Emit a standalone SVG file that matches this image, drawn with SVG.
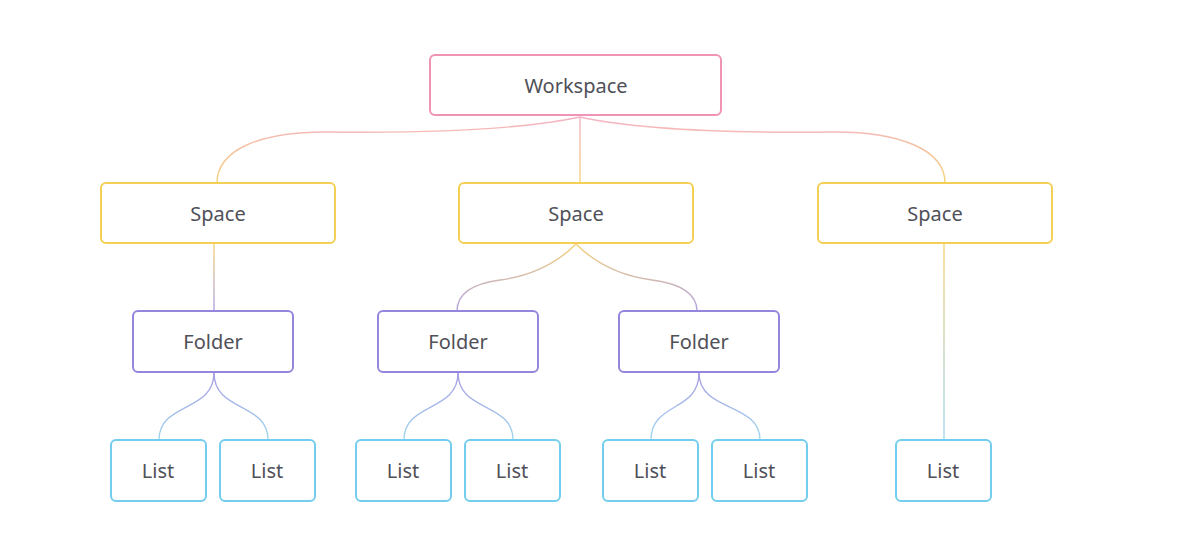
<svg xmlns="http://www.w3.org/2000/svg" width="1179" height="553" viewBox="0 0 1179 553">
<style>
  .box { fill: #ffffff; stroke-width: 2; }
  .ws { stroke: #F093B5; }
  .sp { stroke: #F4CF55; }
  .fo { stroke: #9685DD; }
  .li { stroke: #74CDEE; }
  .lbl { font-family: "Noto Sans", Lato, sans-serif; font-size: 20px; fill: #505058; text-anchor: middle; dominant-baseline: central; }
  .c { fill: none; stroke-width: 1.4; }
</style>
<defs>
  <linearGradient id="gWS" gradientUnits="userSpaceOnUse" x1="0" y1="116" x2="0" y2="183">
    <stop offset="0" stop-color="#F4B3C6"/>
    <stop offset="1" stop-color="#F5D27A"/>
  </linearGradient>
  <linearGradient id="gSF" gradientUnits="userSpaceOnUse" x1="0" y1="244" x2="0" y2="311">
    <stop offset="0" stop-color="#F5D27A"/>
    <stop offset="1" stop-color="#B0A3E3"/>
  </linearGradient>
  <linearGradient id="gFL" gradientUnits="userSpaceOnUse" x1="0" y1="373" x2="0" y2="440">
    <stop offset="0" stop-color="#A99BE2"/>
    <stop offset="1" stop-color="#9FD8F0"/>
  </linearGradient>
  <linearGradient id="gSL" gradientUnits="userSpaceOnUse" x1="0" y1="244" x2="0" y2="440">
    <stop offset="0" stop-color="#F5D27A"/>
    <stop offset="1" stop-color="#9FD8F0"/>
  </linearGradient>
</defs>
<rect width="1179" height="553" fill="#ffffff"/>
<g id="connectors">
  <path class="c" stroke="url(#gWS)" d="M580,117 C520,130 420,133 330,132 C260,131 217,150 217,183"/>
  <path class="c" stroke="url(#gWS)" d="M580,117 V183"/>
  <path class="c" stroke="url(#gWS)" d="M580,117 C640,130 740,133 830,132 C900,131 945,150 945,183"/>
  <path class="c" stroke="url(#gSF)" d="M214,244 V311"/>
  <path class="c" stroke="url(#gSF)" d="M576,244 C555,265 530,276 500,280 C470,284 457,295 457,311"/>
  <path class="c" stroke="url(#gSF)" d="M576,244 C597,265 622,276 652,280 C682,284 697,295 697,311"/>
  <path class="c" stroke="url(#gSL)" d="M944,244 V440"/>
  <path class="c" stroke="url(#gFL)" d="M214,373 C214,412 159,402 159,440"/>
  <path class="c" stroke="url(#gFL)" d="M214,373 C214,412 268,402 268,440"/>
  <path class="c" stroke="url(#gFL)" d="M458,373 C458,412 404,402 404,440"/>
  <path class="c" stroke="url(#gFL)" d="M458,373 C458,412 513,402 513,440"/>
  <path class="c" stroke="url(#gFL)" d="M699,373 C699,412 651,402 651,440"/>
  <path class="c" stroke="url(#gFL)" d="M699,373 C699,412 760,402 760,440"/>
</g>
<g id="workspace"><rect class="box ws" x="430" y="55" width="291" height="60" rx="5"/><text class="lbl" x="576" y="85">Workspace</text></g>
<g id="space1"><rect class="box sp" x="101" y="183" width="234" height="60" rx="5"/><text class="lbl" x="218" y="213">Space</text></g>
<g id="space2"><rect class="box sp" x="459" y="183" width="234" height="60" rx="5"/><text class="lbl" x="576" y="213">Space</text></g>
<g id="space3"><rect class="box sp" x="818" y="183" width="234" height="60" rx="5"/><text class="lbl" x="935" y="213">Space</text></g>
<g id="folder1"><rect class="box fo" x="133" y="311" width="160" height="61" rx="5"/><text class="lbl" x="213" y="341">Folder</text></g>
<g id="folder2"><rect class="box fo" x="378" y="311" width="160" height="61" rx="5"/><text class="lbl" x="458" y="341">Folder</text></g>
<g id="folder3"><rect class="box fo" x="619" y="311" width="160" height="61" rx="5"/><text class="lbl" x="699" y="341">Folder</text></g>
<g id="list1"><rect class="box li" x="111" y="440" width="95" height="61" rx="5"/><text class="lbl" x="158" y="470">List</text></g>
<g id="list2"><rect class="box li" x="220" y="440" width="95" height="61" rx="5"/><text class="lbl" x="267" y="470">List</text></g>
<g id="list3"><rect class="box li" x="356" y="440" width="95" height="61" rx="5"/><text class="lbl" x="403" y="470">List</text></g>
<g id="list4"><rect class="box li" x="465" y="440" width="95" height="61" rx="5"/><text class="lbl" x="512" y="470">List</text></g>
<g id="list5"><rect class="box li" x="603" y="440" width="95" height="61" rx="5"/><text class="lbl" x="650" y="470">List</text></g>
<g id="list6"><rect class="box li" x="712" y="440" width="95" height="61" rx="5"/><text class="lbl" x="759" y="470">List</text></g>
<g id="list7"><rect class="box li" x="896" y="440" width="95" height="61" rx="5"/><text class="lbl" x="943" y="470">List</text></g>
</svg>
